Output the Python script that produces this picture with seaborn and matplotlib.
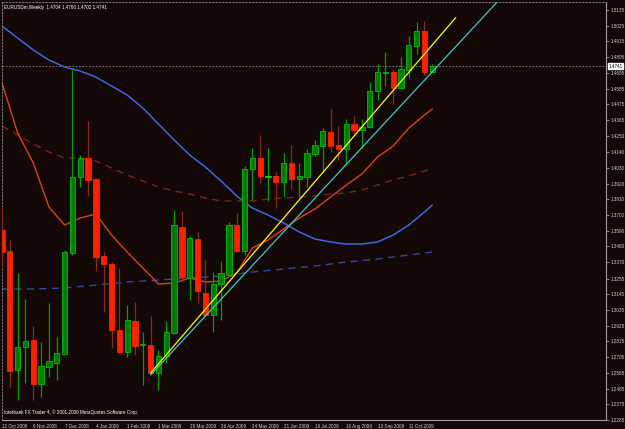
import numpy as np
import pandas as pd
import matplotlib
matplotlib.use("Agg")
import matplotlib.pyplot as plt
import matplotlib.transforms as mtransforms
import seaborn as sns

# ---------------- data ----------------
weeks = pd.date_range("2008-10-12", periods=56, freq="7D")

opens = [1.3595, 1.3448, 1.2615, 1.2776, 1.2825, 1.2517, 1.2636, 1.2664, 1.2727, 1.3434,
         1.3966, 1.4099, 1.3952, 1.3413, 1.3357, 1.2895, 1.2741, 1.2958, 1.2790, 1.2790,
         1.2594, 1.2713, 1.2874, 1.3616, 1.3259, 1.3532, 1.3154, 1.3000, 1.3217, 1.3280,
         1.3630, 1.3448, 1.4022, 1.4099, 1.3966, 1.3973, 1.3931, 1.4064, 1.3952, 1.3966,
         1.4127, 1.4183, 1.4281, 1.4190, 1.4162, 1.4337, 1.4295, 1.4316, 1.4568, 1.4694,
         1.4701, 1.4589, 1.4715, 1.4883, 1.4988, 1.4704]
highs = [1.3763, 1.3525, 1.3294, 1.3112, 1.2923, 1.2811, 1.3084, 1.2846, 1.3455, 1.4715,
         1.4120, 1.4358, 1.3960, 1.3441, 1.3371, 1.3329, 1.3070, 1.3091, 1.2881, 1.2993,
         1.2755, 1.2958, 1.3735, 1.3728, 1.3553, 1.3581, 1.3392, 1.3301, 1.3378, 1.3651,
         1.3714, 1.4043, 1.4169, 1.4260, 1.4169, 1.4001, 1.4134, 1.4190, 1.4064, 1.4162,
         1.4225, 1.4309, 1.4442, 1.4323, 1.4372, 1.4393, 1.4372, 1.4631, 1.4757, 1.4841,
         1.4715, 1.4806, 1.4953, 1.5051, 1.5058, 1.4760]
lows = [1.3336, 1.2496, 1.2405, 1.2524, 1.2405, 1.2426, 1.2566, 1.2545, 1.2720, 1.3420,
        1.3896, 1.3833, 1.3308, 1.3021, 1.2769, 1.2734, 1.2706, 1.2720, 1.2510, 1.2590,
        1.2475, 1.2664, 1.2867, 1.3231, 1.3105, 1.3084, 1.2995, 1.2881, 1.2965, 1.3275,
        1.3441, 1.3420, 1.3805, 1.3924, 1.3798, 1.3749, 1.3826, 1.3882, 1.3826, 1.3896,
        1.4113, 1.4001, 1.4141, 1.4085, 1.4064, 1.4253, 1.4169, 1.4310, 1.4505, 1.4603,
        1.4477, 1.4585, 1.4659, 1.4827, 1.4680, 1.4702]
closes = [1.3441, 1.2608, 1.2776, 1.2818, 1.2517, 1.2643, 1.2678, 1.2734, 1.3441, 1.3966,
          1.4099, 1.3945, 1.3406, 1.3357, 1.2895, 1.2741, 1.2965, 1.2783, 1.2797, 1.2594,
          1.2713, 1.2881, 1.3630, 1.3266, 1.3539, 1.3168, 1.3000, 1.3217, 1.3294, 1.3630,
          1.3448, 1.4022, 1.4099, 1.3973, 1.3973, 1.3931, 1.4064, 1.3952, 1.3973, 1.4134,
          1.4190, 1.4288, 1.4183, 1.4162, 1.4337, 1.4295, 1.4316, 1.4568, 1.4701, 1.4701,
          1.4589, 1.4722, 1.4890, 1.4988, 1.4701, 1.4741]

# moving averages (bar index, price)
ma_idx = [0, 2, 4, 6, 8, 10, 12, 14, 16, 18, 20, 22, 24, 26, 28, 30, 32, 34, 36, 38,
          40, 42, 44, 46, 48, 50, 52, 54, 55]
ma_fast = [1.4624, 1.4274, 1.4064, 1.3756, 1.3630, 1.3679, 1.3707, 1.3560, 1.3441, 1.3329,
           1.3217, 1.3224, 1.3259, 1.3231, 1.3238, 1.3294, 1.3469, 1.3525, 1.3602, 1.3679,
           1.3742, 1.3826, 1.3910, 1.3987, 1.4106, 1.4183, 1.4309, 1.4400, 1.4442]
ma_mid = [1.4323, 1.4260, 1.4197, 1.4141, 1.4099, 1.4099, 1.4078, 1.4029, 1.3980, 1.3938,
          1.3896, 1.3868, 1.3847, 1.3819, 1.3798, 1.3798, 1.3798, 1.3812, 1.3819, 1.3826,
          1.3833, 1.3847, 1.3854, 1.3875, 1.3910, 1.3945, 1.3973, 1.4008, 1.4022]
ma_blue = [1.5023, 1.4939, 1.4855, 1.4785, 1.4736, 1.4708, 1.4666, 1.4603, 1.4540, 1.4449,
           1.4337, 1.4225, 1.4120, 1.4036, 1.3938, 1.3833, 1.3749, 1.3700, 1.3644, 1.3581,
           1.3532, 1.3511, 1.3497, 1.3497, 1.3511, 1.3560, 1.3630, 1.3721, 1.3770]
ma_slow_idx = [0, 4, 8, 12, 16, 20, 24, 28, 32, 36, 40, 44, 48, 52, 55]
ma_slow = [1.3182, 1.3182, 1.3189, 1.3210, 1.3231, 1.3245, 1.3259, 1.3273, 1.3301, 1.3322,
           1.3343, 1.3371, 1.3392, 1.3420, 1.3441]

# trend lines (bar index, price)
yellow_pts = [(19, 1.2594), (58, 1.5082)]
cyan_pts = [(19, 1.2580), (64, 1.5233)]

ytick_vals = [1.5135, 1.5025, 1.4915, 1.4805, 1.4695, 1.4585, 1.4475, 1.4365, 1.4250,
              1.4140, 1.4030, 1.3920, 1.3810, 1.3700, 1.3590, 1.3480, 1.3370, 1.3255,
              1.3145, 1.3035, 1.2925, 1.2815, 1.2705, 1.2595, 1.2485, 1.2375, 1.2265]
last_price = 1.4741
title_txt = "EURUSDm,Weekly  1.4704 1.4760 1.4702 1.4741"
footer_txt = "Interbank FX Trader 4, \u00a9 2001-2009 MetaQuotes Software Corp."

# ---------------- style ----------------
bg = "#140806"
sns.set_style("dark", {"axes.facecolor": bg, "figure.facecolor": bg})
plt.rcParams["font.family"] = ["Liberation Sans", "DejaVu Sans"]
fs = 3.3

fig = plt.figure(figsize=(6.25, 4.29), dpi=100, facecolor=bg)
ax = fig.add_axes([2 / 625, 9 / 429, 604 / 625, 418 / 429])
ax.set_facecolor(bg)

n = len(opens)
idx = np.arange(n)
o = np.array(opens); c = np.array(closes); h = np.array(highs); l = np.array(lows)
up = c >= o

# moving averages via seaborn
sns.lineplot(x=ma_slow_idx, y=ma_slow, ax=ax, color="#2a4aa8", lw=1.0,
             linestyle=(0, (5, 4)), zorder=2)
sns.lineplot(x=ma_idx, y=ma_mid, ax=ax, color="#7a2410", lw=1.0,
             linestyle=(0, (5, 4)), zorder=2)
sns.lineplot(x=ma_idx, y=ma_blue, ax=ax, color="#3a66e0", lw=1.1, zorder=2)
sns.lineplot(x=ma_idx, y=ma_fast, ax=ax, color="#e0401a", lw=1.0, zorder=2)

# wicks
wick_cols = np.where(up, "#00a000", "#8a2a18")
ax.vlines(idx, l, h, colors=wick_cols, lw=0.9, zorder=3)

# bodies
w = 0.68
body_bottom = np.minimum(o, c)
body_h = np.maximum(np.abs(c - o), 0.0004)
ax.bar(idx[up], body_h[up], bottom=body_bottom[up], width=w,
       color="#007a00", edgecolor="#00c000", linewidth=0.6, zorder=4)
ax.bar(idx[~up], body_h[~up], bottom=body_bottom[~up], width=w,
       color="#ff2000", edgecolor="#ff2000", linewidth=0.6, zorder=4)
# doji
ax.bar([34], [0.0004], bottom=[1.3970], width=w, color="#00ff00",
       edgecolor="#00ff00", linewidth=0.6, zorder=5)

# trend lines
ax.plot([p[0] for p in yellow_pts], [p[1] for p in yellow_pts], color="#ffff00",
        lw=0.9, zorder=6)
ax.plot([p[0] for p in cyan_pts], [p[1] for p in cyan_pts], color="#40c8c8",
        lw=0.9, zorder=6)

# current price line
ax.axhline(last_price, color="#8a8a8a", lw=0.6, ls=(0, (2, 2)), zorder=1)

ax.set_xlim(0.05, 77.2)
ax.set_ylim(1.2265, 1.5191)

# y ticks right
ax.yaxis.tick_right()
ax.set_yticks(ytick_vals)
ax.set_yticklabels([f"{v:.4f}" for v in ytick_vals])
ax.tick_params(axis="y", colors="#9a9a9a", labelcolor="#d0d0d0", length=2.0,
               width=0.6, labelsize=fs, pad=1.2, direction="out")

# x ticks
xt = idx[::4]
ax.set_xticks(xt)
ax.set_xticklabels([f"{d.day} {d.strftime('%b %Y')}" for d in weeks[::4]])
for lab in ax.get_xticklabels():
    lab.set_horizontalalignment("left")
ax.tick_params(axis="x", colors="#9a9a9a", labelcolor="#d0d0d0", length=2.0,
               width=0.6, labelsize=fs, pad=0.6, direction="out")
ax.set_xlabel(""); ax.set_ylabel("")
ax.grid(False)

for s in ["right", "bottom"]:
    ax.spines[s].set_visible(True)
    ax.spines[s].set_color("#a0a0a0")
    ax.spines[s].set_linewidth(0.8)
for s in ["top", "left"]:
    ax.spines[s].set_visible(True)
    ax.spines[s].set_color("#8a8a8a")
    ax.spines[s].set_linewidth(0.6)
    ax.spines[s].set_linestyle((0, (2, 2)))

# last price box
trans = mtransforms.blended_transform_factory(ax.transAxes, ax.transData)
ax.text(1.004, last_price, f"{last_price:.4f}", transform=trans, fontsize=fs,
        color="black", va="center", ha="left",
        bbox=dict(facecolor="white", edgecolor="white", pad=0.5))

# texts
ax.text(0.004, 0.993, title_txt, transform=ax.transAxes, fontsize=fs,
        color="white", va="top", ha="left")
ax.text(0.003, 0.013, footer_txt, transform=ax.transAxes, fontsize=fs,
        color="white", va="bottom", ha="left")

fig.savefig("out.png", dpi=100, facecolor=bg)
